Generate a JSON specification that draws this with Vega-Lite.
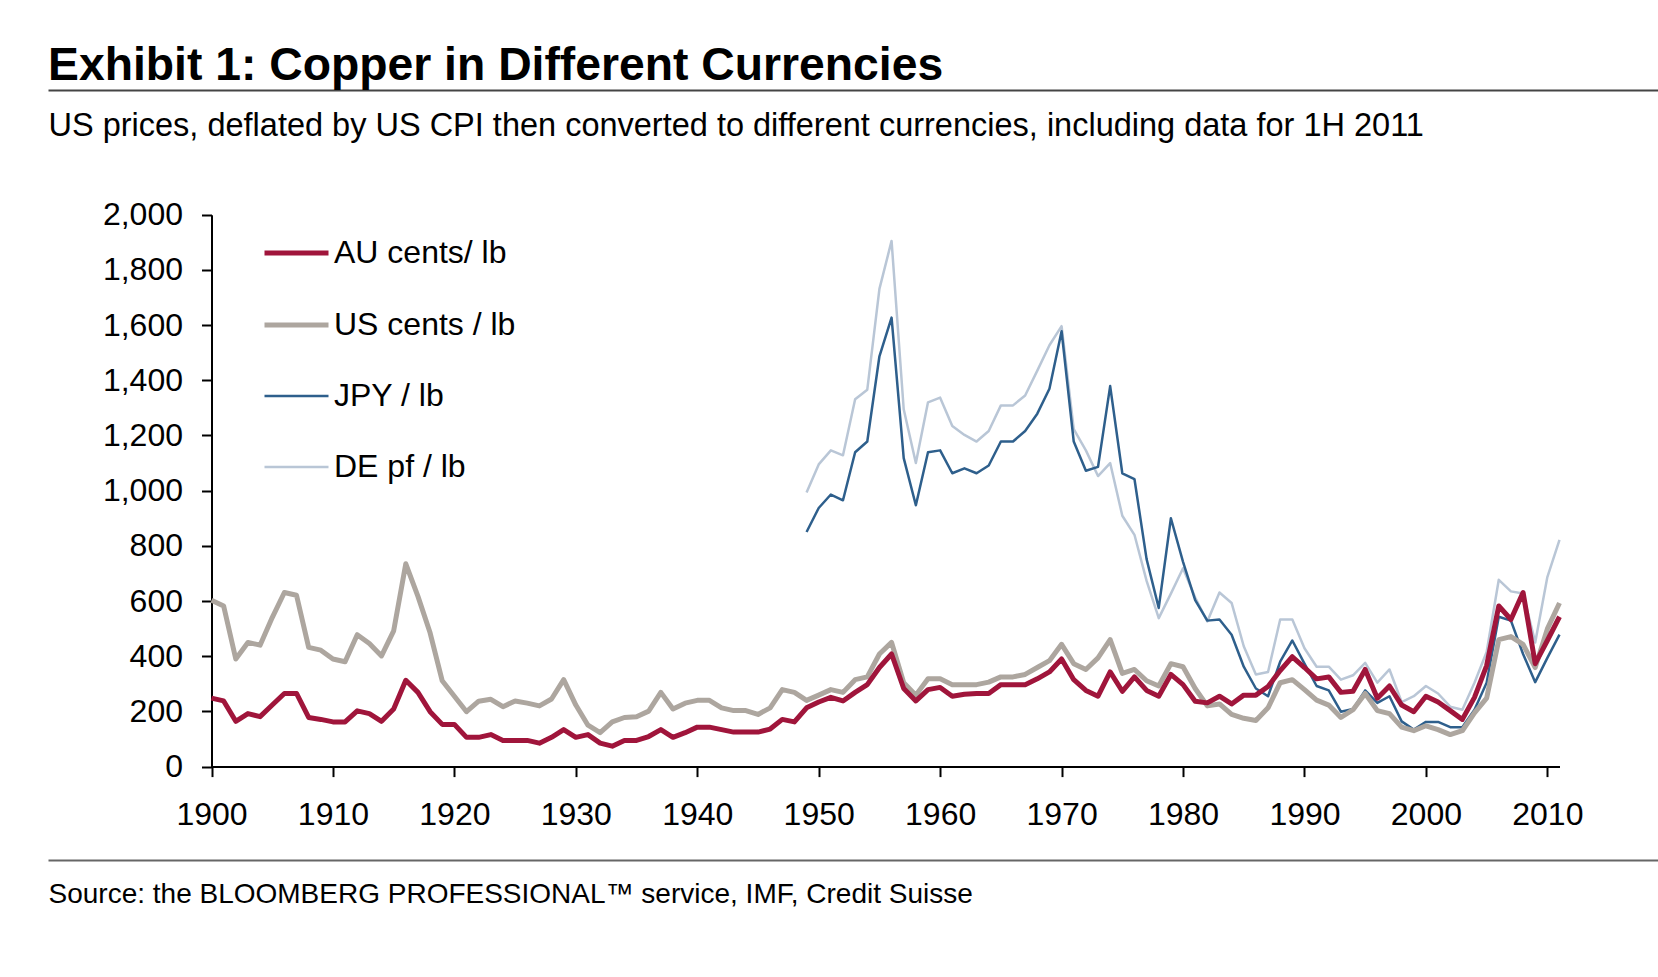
{
  "$schema": "https://vega.github.io/schema/vega-lite/v6.json",
  "width": 1610,
  "height": 770,
  "autosize": "none",
  "padding": {"left": 48, "top": 90, "right": 0, "bottom": 117},
  "background": "white",
  "config": {"font": "Liberation Sans", "view": {"stroke": null}, "axis": {"grid": false}},
  "title": {"text": "Exhibit 1: Copper in Different Currencies", "anchor": "start", "frame": "group", "fontSize": 46.3, "fontWeight": "bold", "font": "Liberation Sans", "color": "#000", "baseline": "alphabetic", "offset": 10, "dy": 46},
  "data": {"values": [
    {"year":1900,"AU":248,"US":603},{"year":1901,"AU":238,"US":582},{"year":1902,"AU":164,"US":390},{"year":1903,"AU":192,"US":450},{"year":1904,"AU":181,"US":440},
    {"year":1905,"AU":223,"US":540},{"year":1906,"AU":265,"US":631},{"year":1907,"AU":265,"US":621},{"year":1908,"AU":178,"US":432},{"year":1909,"AU":171,"US":422},
    {"year":1910,"AU":162,"US":390},{"year":1911,"AU":162,"US":380},{"year":1912,"AU":202,"US":478},{"year":1913,"AU":192,"US":446},{"year":1914,"AU":164,"US":401},
    {"year":1915,"AU":209,"US":492},{"year":1916,"AU":313,"US":735},{"year":1917,"AU":269,"US":617},{"year":1918,"AU":199,"US":485},{"year":1919,"AU":153,"US":311},
    {"year":1920,"AU":153,"US":255},{"year":1921,"AU":106,"US":199},{"year":1922,"AU":106,"US":237},{"year":1923,"AU":116,"US":244},{"year":1924,"AU":95,"US":217},
    {"year":1925,"AU":95,"US":238},{"year":1926,"AU":95,"US":230},{"year":1927,"AU":85,"US":220},{"year":1928,"AU":106,"US":245},{"year":1929,"AU":134,"US":315},
    {"year":1930,"AU":106,"US":223},{"year":1931,"AU":116,"US":150},{"year":1932,"AU":85,"US":123},{"year":1933,"AU":74,"US":162},{"year":1934,"AU":95,"US":178},
    {"year":1935,"AU":95,"US":181},{"year":1936,"AU":109,"US":201},{"year":1937,"AU":134,"US":269},{"year":1938,"AU":106,"US":209},{"year":1939,"AU":123,"US":230},
    {"year":1940,"AU":143,"US":240},{"year":1941,"AU":143,"US":240},{"year":1942,"AU":134,"US":213},{"year":1943,"AU":125,"US":203},{"year":1944,"AU":125,"US":203},
    {"year":1945,"AU":125,"US":189},{"year":1946,"AU":136,"US":213},{"year":1947,"AU":171,"US":279},{"year":1948,"AU":162,"US":269},
    {"year":1949,"AU":213,"US":240,"JPY":850,"DE":993},{"year":1950,"AU":234,"US":259,"JPY":937,"DE":1095},{"year":1951,"AU":251,"US":279,"JPY":986,"DE":1146},
    {"year":1952,"AU":238,"US":269,"JPY":965,"DE":1128},{"year":1953,"AU":269,"US":315,"JPY":1139,"DE":1331},{"year":1954,"AU":297,"US":325,"JPY":1178,"DE":1366},
    {"year":1955,"AU":359,"US":408,"JPY":1487,"DE":1731},{"year":1956,"AU":408,"US":450,"JPY":1627,"DE":1905},{"year":1957,"AU":283,"US":304,"JPY":1118,"DE":1295},
    {"year":1958,"AU":238,"US":259,"JPY":947,"DE":1100},{"year":1959,"AU":279,"US":318,"JPY":1139,"DE":1320},{"year":1960,"AU":287,"US":318,"JPY":1146,"DE":1337},
    {"year":1961,"AU":255,"US":297,"JPY":1063,"DE":1234},{"year":1962,"AU":262,"US":297,"JPY":1081,"DE":1202},{"year":1963,"AU":265,"US":297,"JPY":1063,"DE":1178},
    {"year":1964,"AU":265,"US":306,"JPY":1091,"DE":1216},{"year":1965,"AU":297,"US":325,"JPY":1178,"DE":1309},{"year":1966,"AU":297,"US":325,"JPY":1178,"DE":1309},
    {"year":1967,"AU":297,"US":334,"JPY":1216,"DE":1345},{"year":1968,"AU":318,"US":359,"JPY":1279,"DE":1435},{"year":1969,"AU":343,"US":384,"JPY":1369,"DE":1527},
    {"year":1970,"AU":390,"US":443,"JPY":1578,"DE":1596},{"year":1971,"AU":315,"US":373,"JPY":1178,"DE":1223},{"year":1972,"AU":276,"US":352,"JPY":1072,"DE":1146},
    {"year":1973,"AU":255,"US":394,"JPY":1086,"DE":1053},{"year":1974,"AU":343,"US":460,"JPY":1379,"DE":1100},{"year":1975,"AU":273,"US":338,"JPY":1063,"DE":909},
    {"year":1976,"AU":325,"US":352,"JPY":1042,"DE":840},{"year":1977,"AU":276,"US":311,"JPY":752,"DE":673},{"year":1978,"AU":255,"US":292,"JPY":575,"DE":538},
    {"year":1979,"AU":334,"US":373,"JPY":900,"DE":627},{"year":1980,"AU":297,"US":362,"JPY":742,"DE":719},{"year":1981,"AU":237,"US":283,"JPY":603,"DE":613},
    {"year":1982,"AU":231,"US":220,"JPY":529,"DE":526},{"year":1983,"AU":255,"US":227,"JPY":533,"DE":631},{"year":1984,"AU":227,"US":189,"JPY":478,"DE":593},
    {"year":1985,"AU":259,"US":175,"JPY":362,"DE":436},{"year":1986,"AU":259,"US":167,"JPY":283,"DE":334},{"year":1987,"AU":290,"US":213,"JPY":255,"DE":343},
    {"year":1988,"AU":348,"US":304,"JPY":380,"DE":533},{"year":1989,"AU":398,"US":315,"JPY":457,"DE":533},{"year":1990,"AU":359,"US":279,"JPY":373,"DE":429},
    {"year":1991,"AU":318,"US":241,"JPY":292,"DE":362},{"year":1992,"AU":325,"US":223,"JPY":276,"DE":362},{"year":1993,"AU":269,"US":178,"JPY":199,"DE":315},
    {"year":1994,"AU":273,"US":206,"JPY":209,"DE":331},{"year":1995,"AU":352,"US":265,"JPY":276,"DE":376},{"year":1996,"AU":248,"US":203,"JPY":231,"DE":304},
    {"year":1997,"AU":292,"US":192,"JPY":255,"DE":352},{"year":1998,"AU":223,"US":143,"JPY":164,"DE":234},{"year":1999,"AU":199,"US":130,"JPY":134,"DE":255},
    {"year":2000,"AU":255,"US":148,"JPY":162,"DE":292},{"year":2001,"AU":234,"US":134,"JPY":162,"DE":265},{"year":2002,"AU":203,"US":116,"JPY":143,"DE":217},
    {"year":2003,"AU":171,"US":130,"JPY":143,"DE":206},{"year":2004,"AU":251,"US":195,"JPY":206,"DE":304},{"year":2005,"AU":366,"US":248,"JPY":304,"DE":415},
    {"year":2006,"AU":582,"US":460,"JPY":543,"DE":677},{"year":2007,"AU":533,"US":471,"JPY":529,"DE":635},{"year":2008,"AU":631,"US":443,"JPY":408,"DE":627},
    {"year":2009,"AU":373,"US":359,"JPY":306,"DE":450},{"year":2010,"AU":457,"US":499,"JPY":394,"DE":687},{"year":2011,"AU":543,"US":593,"JPY":478,"DE":822}
  ]},
  "layer": [
    {
      "transform": [
        {"fold": ["DE", "JPY", "US", "AU"], "as": ["series", "value"]},
        {"filter": "isValid(datum.value)"}
      ],
      "encoding": {
        "x": {"field": "year", "type": "quantitative",
          "scale": {"domain": [1900, 2011], "range": [163.5, 1511.5], "nice": false, "zero": false},
          "axis": {"orient": "bottom", "offset": -93.4, "values": [1900,1910,1920,1930,1940,1950,1960,1970,1980,1990,2000,2010], "format": "d", "title": null, "grid": false,
            "domainColor": "#000", "domainWidth": 2, "tickColor": "#000", "tickWidth": 2, "tickSize": 10,
            "labelFontSize": 32, "labelFont": "Liberation Sans", "labelColor": "#000", "labelPadding": 48, "labelBaseline": "alphabetic", "labelFlush": false, "labelOverlap": false}},
        "y": {"field": "value", "type": "quantitative",
          "scale": {"domain": [0, 2000], "range": [676.6, 124.7], "nice": false, "zero": true},
          "axis": {"orient": "left", "offset": -163.5, "values": [0,200,400,600,800,1000,1200,1400,1600,1800,2000], "format": ",.0f", "title": null, "grid": false,
            "domainColor": "#000", "domainWidth": 2, "tickColor": "#000", "tickWidth": 2, "tickSize": 10,
            "labelFontSize": 32, "labelFont": "Liberation Sans", "labelColor": "#000", "labelPadding": 19, "labelFlush": false, "labelOverlap": false}},
        "color": {"field": "series", "type": "nominal",
          "scale": {"domain": ["AU", "US", "JPY", "DE"], "range": ["#A0153B", "#ADA69F", "#2E5F8C", "#B9C6D6"]},
          "legend": {"orient": "none", "legendX": 214, "legendY": 128.6, "title": null, "symbolType": "stroke", "symbolSize": 4096,
            "labelFontSize": 32, "labelFont": "Liberation Sans", "labelColor": "#000", "labelOffset": 3, "rowPadding": 21, "padding": 0, "labelLimit": 500,
            "labelExpr": "{'AU': 'AU cents/ lb', 'US': 'US cents / lb', 'JPY': 'JPY / lb', 'DE': 'DE pf / lb'}[datum.value]"}},
        "strokeWidth": {"field": "series", "type": "nominal",
          "scale": {"type": "ordinal", "domain": ["AU", "US", "JPY", "DE"], "range": [5, 5, 2.5, 2.5]},
          "legend": {"orient": "none", "legendX": 214, "legendY": 128.6, "title": null, "symbolType": "stroke", "symbolSize": 4096,
            "labelFontSize": 32, "labelFont": "Liberation Sans", "labelColor": "#000", "labelOffset": 3, "rowPadding": 21, "padding": 0, "labelLimit": 500,
            "labelExpr": "{'AU': 'AU cents/ lb', 'US': 'US cents / lb', 'JPY': 'JPY / lb', 'DE': 'DE pf / lb'}[datum.value]"}}
      },
      "layer": [
        {"transform": [{"filter": {"field": "series", "oneOf": ["DE", "JPY"]}}], "mark": {"type": "line", "strokeJoin": "round"}},
        {"transform": [{"filter": {"field": "series", "oneOf": ["US", "AU"]}}], "mark": {"type": "line", "strokeJoin": "round"}}
      ]
    },
    {
      "data": {"values": []},
      "mark": "rule",
      "encoding": {
        "x": {"field": "year", "type": "quantitative", "scale": {"domain": [0, 1]},
          "axis": {"orient": "top", "offset": 0, "domain": true, "domainColor": "#444", "domainWidth": 2, "ticks": false, "labels": false, "grid": false,
            "title": "US prices, deflated by US CPI then converted to different currencies, including data for 1H 2011",
            "titleFontSize": 32.5, "titleFontWeight": "normal", "titleColor": "#000", "titleFont": "Liberation Sans",
            "titleX": 0, "titleY": 45, "titleAlign": "left", "titleAnchor": "start", "titleBaseline": "alphabetic", "titleLimit": 2000}}
      }
    },
    {
      "data": {"values": []},
      "mark": "rule",
      "encoding": {
        "x": {"field": "year", "type": "quantitative", "scale": {"domain": [0, 1]},
          "axis": {"orient": "bottom", "offset": 0, "domain": true, "domainColor": "#666", "domainWidth": 2, "ticks": false, "labels": false, "grid": false,
            "title": "Source: the BLOOMBERG PROFESSIONAL™ service, IMF, Credit Suisse",
            "titleFontSize": 28, "titleFontWeight": "normal", "titleColor": "#000", "titleFont": "Liberation Sans",
            "titleX": 0, "titleY": 42, "titleAlign": "left", "titleAnchor": "start", "titleBaseline": "alphabetic", "titleLimit": 2000}}
      }
    }
  ],
  "resolve": {"scale": {"x": "independent"}}
}
